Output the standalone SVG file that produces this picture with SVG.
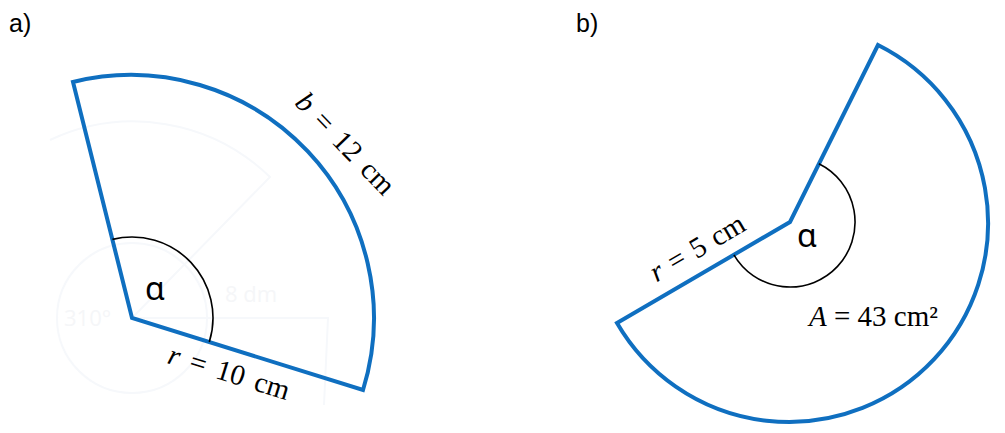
<svg xmlns="http://www.w3.org/2000/svg" width="1005" height="433" viewBox="0 0 1005 433">
<style>
.sector{fill:none;stroke:#0F6FC0;stroke-width:4;stroke-linejoin:miter}
.ang{fill:none;stroke:#000;stroke-width:1.6}
.ghost{fill:none;stroke:#F6F8FB;stroke-width:2}
.ghostt{font-family:"Open Sans","Liberation Sans",sans-serif;font-size:22px;fill:#F5F6F8}
.lbl{font-family:"Liberation Sans","Open Sans",sans-serif;font-size:25px;fill:#000}
.math{font-family:"Liberation Serif","DejaVu Serif",serif;font-size:29px;fill:#000;word-spacing:4px}
.alpha{font-family:"Noto Sans","Open Sans",sans-serif;font-size:32px;fill:#000}
</style>
<rect width="1005" height="433" fill="#fff"/>
<g id="ghost">
<circle class="ghost" cx="132" cy="318" r="75"/>
<path class="ghost" d="M50,140 A196,196 0 0 1 270,177 L132,318 M132,318 L328,318 L324,405"/>
<text class="ghostt" x="64" y="326">310°</text>
<text class="ghostt" x="225" y="302">8 dm</text>
</g>
<g id="label-a"><text class="lbl" x="9" y="32">a)</text></g>
<g id="label-b"><text class="lbl" x="576" y="32">b)</text></g>
<g id="sector-a">
<path class="sector" d="M73,82 A243,243 0 0 1 363,390 L132,318 Z"/>
<path class="ang" d="M112.4,239.4 A81,81 0 0 1 209.3,342.1"/>
<text class="alpha" x="145" y="300">ɑ</text>
<text class="math" transform="translate(345,144) rotate(46)" text-anchor="middle" dy="9"><tspan font-style="italic">b</tspan> = 12 cm</text>
<text class="math" transform="translate(229,373) rotate(17.3)" text-anchor="middle" dy="9"><tspan font-style="italic">r</tspan> = 10 cm</text>
</g>
<g id="sector-b">
<path class="sector" d="M878,45 A199,199 0 1 1 617,323 L790,222 Z"/>
<path class="ang" d="M818.9,163.8 A65,65 0 1 1 733.9,254.8"/>
<text class="alpha" x="797" y="247">ɑ</text>
<text class="math" transform="translate(698,249) rotate(-30.3)" text-anchor="middle" dy="8" font-size="24" style="word-spacing:2px"><tspan font-style="italic">r</tspan> = 5 cm</text>
<text class="math" x="809" y="326" font-size="25" style="word-spacing:0px"><tspan font-style="italic">A</tspan> = 43 cm²</text>
</g>
</svg>
